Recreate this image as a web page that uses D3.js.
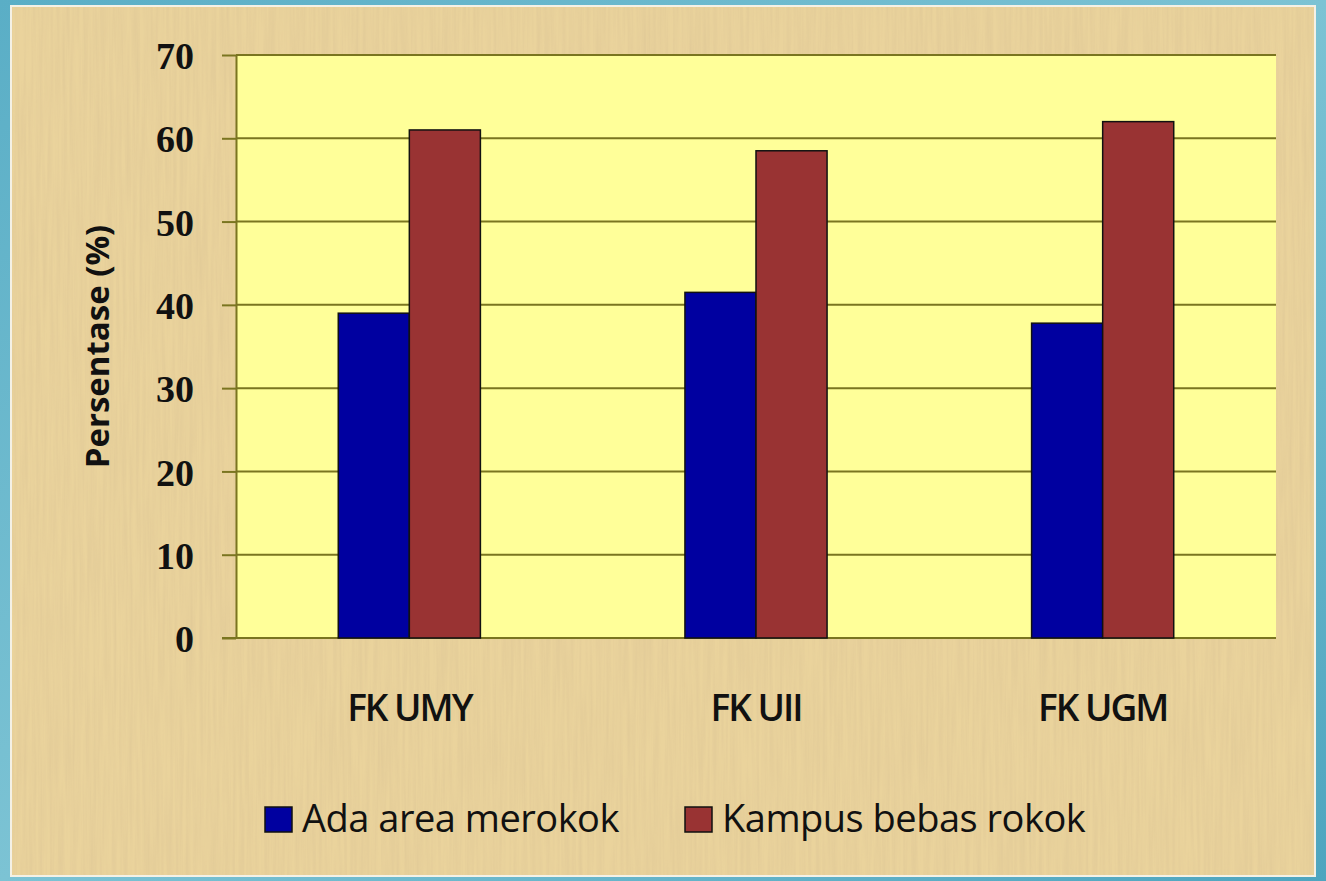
<!DOCTYPE html>
<html>
<head>
<meta charset="utf-8">
<script src="https://cdn.jsdelivr.net/npm/d3@7"></script>
<style>
  body { margin: 0; background: #63b3c9; }
  svg { display: block; }
</style>
</head>
<body>
<div id="chart"></div>
<script>
// chart data
const categories = ["FK UMY", "FK UII", "FK UGM"];
const seriesNames = ["Ada area merokok", "Kampus bebas rokok"];
const adaArea = [39, 41.5, 37.8];
const bebasRokok = [61, 58.5, 62];
const yTicks = [0, 10, 20, 30, 40, 50, 60, 70];
const colors = ["#0000a0", "#993333"];

const width = 1326, height = 881;
const margin = {left: 236, right: 50, top: 55, bottom: 243};

const svg = d3.select("#chart").append("svg")
    .attr("width", width)
    .attr("height", height);

const defs = svg.append("defs");

// teal background gradient
const bg = defs.append("linearGradient").attr("id", "bg")
    .attr("x1", 0).attr("y1", 0).attr("x2", 1).attr("y2", 1);
bg.append("stop").attr("offset", "0%").attr("stop-color", "#5aaec6");
bg.append("stop").attr("offset", "50%").attr("stop-color", "#7cc3d4");
bg.append("stop").attr("offset", "100%").attr("stop-color", "#4ea5bf");

// parchment texture
const paper = defs.append("filter").attr("id", "paper")
    .attr("x", 0).attr("y", 0).attr("width", "100%").attr("height", "100%");
paper.append("feTurbulence")
    .attr("type", "fractalNoise")
    .attr("baseFrequency", "0.3 0.01")
    .attr("numOctaves", 3)
    .attr("seed", 4)
    .attr("result", "noise");
paper.append("feColorMatrix")
    .attr("in", "noise")
    .attr("type", "matrix")
    .attr("values", "0 0 0 0 0.72  0 0 0 0 0.56  0 0 0 0 0.3  0 0 0 0.9 -0.25")
    .attr("result", "tint");
paper.append("feComposite").attr("in", "tint").attr("in2", "SourceGraphic").attr("operator", "in");

svg.append("rect").attr("width", width).attr("height", height).attr("fill", "url(#bg)");

svg.append("rect")
    .attr("x", 11).attr("y", 6)
    .attr("width", 1304).attr("height", 870)
    .attr("fill", "#ead39c")
    .attr("stroke", "#f4f1e6")
    .attr("stroke-width", 2);
svg.append("rect")
    .attr("x", 12).attr("y", 7)
    .attr("width", 1302).attr("height", 868)
    .attr("fill", "#ead39c")
    .attr("filter", "url(#paper)");

const x0 = d3.scaleBand()
    .domain(categories)
    .range([margin.left, width - margin.right])
    .paddingInner(0.59)
    .paddingOuter(0.295);

const x1 = d3.scaleBand()
    .domain(seriesNames)
    .range([0, x0.bandwidth()]);

const y = d3.scaleLinear()
    .domain([0, 70])
    .range([height - margin.bottom, margin.top]);

// plot area
svg.append("rect")
    .attr("x", margin.left)
    .attr("y", margin.top)
    .attr("width", width - margin.right - margin.left)
    .attr("height", y(0) - margin.top)
    .attr("fill", "#ffff99");

// gridlines
svg.append("g")
    .selectAll("line")
    .data(yTicks.filter(d => d > 0))
    .join("line")
    .attr("x1", margin.left)
    .attr("x2", width - margin.right)
    .attr("y1", d => y(d))
    .attr("y2", d => y(d))
    .attr("stroke", "#7a7520")
    .attr("stroke-width", 2);

// y axis
const yAxis = svg.append("g")
    .attr("transform", `translate(${margin.left},0)`)
    .call(d3.axisLeft(y).tickValues(yTicks).tickSize(14).tickPadding(28).tickSizeOuter(0));
yAxis.select(".domain").attr("stroke", "#7a7520").attr("stroke-width", 2);
yAxis.selectAll(".tick line").attr("stroke", "#7a7520").attr("stroke-width", 2);
yAxis.selectAll(".tick text")
    .attr("fill", "#111")
    .attr("dy", "0.36em")
    .style("font-family", "'Liberation Serif', 'DejaVu Serif', serif")
    .style("font-size", "38px")
    .style("font-weight", "bold");

// x baseline
svg.append("line")
    .attr("x1", margin.left - 14)
    .attr("x2", width - margin.right)
    .attr("y1", y(0)).attr("y2", y(0))
    .attr("stroke", "#7a7520")
    .attr("stroke-width", 2);

// bars
const rows = categories.map((c, i) => ({cat: c, values: [adaArea[i], bebasRokok[i]]}));
const groups = svg.append("g")
    .selectAll("g")
    .data(rows)
    .join("g")
    .attr("transform", d => `translate(${x0(d.cat)},0)`);

groups.selectAll("rect")
    .data(d => d.values.map((v, j) => ({name: seriesNames[j], value: v, j: j})))
    .join("rect")
    .attr("x", d => x1(d.name))
    .attr("y", d => y(d.value))
    .attr("width", x1.bandwidth())
    .attr("height", d => y(0) - y(d.value))
    .attr("fill", d => colors[d.j])
    .attr("stroke", "#111")
    .attr("stroke-width", 1.5);

// category labels
svg.append("g")
    .selectAll("text")
    .data(categories)
    .join("text")
    .attr("x", d => x0(d) + x0.bandwidth() / 2)
    .attr("y", 721)
    .attr("text-anchor", "middle")
    .attr("fill", "#111")
    .style("font-family", "'Open Sans', 'Liberation Sans', sans-serif")
    .style("font-size", "37px")
    .style("font-weight", "600")
    .style("letter-spacing", "-2px")
    .text(d => d);

// y axis title
svg.append("text")
    .attr("transform", `translate(109,${(margin.top + y(0)) / 2}) rotate(-90)`)
    .attr("text-anchor", "middle")
    .attr("fill", "#111")
    .style("font-family", "'Open Sans', 'Liberation Sans', sans-serif")
    .style("font-size", "33px")
    .style("font-weight", "bold")
    .text("Persentase (%)");

// legend
const legendX = [265, 685];
const legend = svg.append("g")
    .selectAll("g")
    .data(seriesNames)
    .join("g")
    .attr("transform", (d, i) => `translate(${legendX[i]},807)`);
legend.append("rect")
    .attr("width", 27).attr("height", 25)
    .attr("fill", (d, i) => colors[i])
    .attr("stroke", "#111")
    .attr("stroke-width", 1.5);
legend.append("text")
    .attr("x", 37)
    .attr("y", 25)
    .attr("fill", "#111")
    .style("font-family", "'Open Sans', 'Liberation Sans', sans-serif")
    .style("font-size", "38px")
    .style("letter-spacing", "-0.5px")
    .text(d => d);
</script>
</body>
</html>
